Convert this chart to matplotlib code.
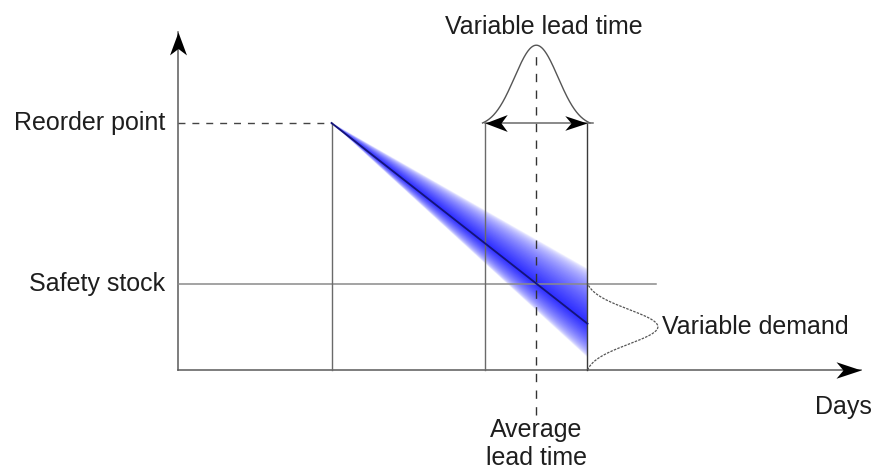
import numpy as np
from matplotlib import pyplot as plt

plt.rcParams['font.family'] = ['Liberation Sans', 'DejaVu Sans']

# stock levels (units) and days
reorder_point = 100
safety_stock = 35
reorder_day = 6
lead_min, lead_avg, lead_max = 12, 14, 16
demand_rate = 8.125          # units per day, mean
demand_rate_low = 5.9        # upper edge of the fan
demand_rate_high = 9.5       # lower edge of the fan
lead_sigma = 0.85            # days
demand_sigma = 7.0           # units
lead_bell_height = 31.5      # units
demand_bell_height = 2.75    # days

labels_y = ["Reorder point", "Safety stock"]
label_lead = "Variable lead time"
label_demand = "Variable demand"
label_avg = "Average\nlead time"
label_x = "Days"

fig = plt.figure(figsize=(8.76, 4.73), dpi=100)
ax = fig.add_axes([0, 0, 1, 1])
ax.set_xlim(-6.95, 27.27)
ax.set_ylim(-41.7, 149.8)
ax.axis('off')

txt = '#1e1e1e'
grey = '#6a6a6a'

def head(x, y, verts, size):
    ax.plot([x], [y], marker=verts, ms=size, color='black', mew=0, zorder=6)

up = [(0, 0), (-0.37, -1), (0, -0.72), (0.37, -1)]
right = [(0, 0), (-1, 0.33), (-0.72, 0), (-1, -0.33)]
left = [(0, 0), (1, 0.38), (0.72, 0), (1, -0.38)]

# axes with arrows
ax.plot([0, 0], [0, 137], color='#5a5a5a', lw=1.1, zorder=3)
ax.plot([0, 26.7], [0, 0], color='#5a5a5a', lw=1.1, zorder=3)
head(0, 137, up, 33)
head(26.7, 0, right, 36)

# fan of possible demand, faded towards the edges
gx = np.linspace(reorder_day, lead_max, 500)
gy = np.linspace(0, reorder_point, 500)
X, Y = np.meshgrid(gx, gy)
dt = X - reorder_day
c = reorder_point - demand_rate * dt
u = reorder_point - demand_rate_low * dt
l = reorder_point - demand_rate_high * dt
with np.errstate(divide='ignore', invalid='ignore'):
    t = np.where(Y >= c, (Y - c) / (u - c), (c - Y) / (c - l))
t = np.nan_to_num(t, nan=2.0)
alpha = np.clip(1 - t, 0, 1) ** 0.55
rgba = np.zeros(X.shape + (4,))
rgba[..., 0] = 0.1
rgba[..., 1] = 0.1
rgba[..., 2] = 1.0
rgba[..., 3] = alpha * 0.92
ax.imshow(rgba, extent=[reorder_day, lead_max, 0, reorder_point], origin='lower',
          aspect='auto', interpolation='bilinear', zorder=2)

# mean demand line
ax.plot([reorder_day, lead_max],
        [reorder_point, reorder_point - demand_rate * (lead_max - reorder_day)],
        color='#14147a', lw=1.3, zorder=4)

# reference lines
ax.plot([0, reorder_day], [reorder_point, reorder_point], color='#444444', lw=1,
        dashes=(5, 5), zorder=3)
ax.plot([0, 18.67], [safety_stock, safety_stock], color='#8a8a8a', lw=1.1, zorder=3)
ax.plot([reorder_day, reorder_day], [0, reorder_point], color=grey, lw=1, zorder=3)
ax.plot([lead_min, lead_min], [0, reorder_point], color=grey, lw=1, zorder=3)
ax.plot([lead_max, lead_max], [0, reorder_point], color='#3a3a3a', lw=1, zorder=3)
ax.plot([lead_avg, lead_avg], [-18.2, 128], color='#333333', lw=1,
        dashes=(6, 6), zorder=5)

# lead time distribution with double arrow
lx = np.linspace(lead_min - 0.1, lead_max + 0.1, 300)
g = np.exp(-(lx - lead_avg) ** 2 / (2 * lead_sigma ** 2))
g0 = np.exp(-(lead_max + 0.1 - lead_avg) ** 2 / (2 * lead_sigma ** 2))
ax.plot(lx, reorder_point + lead_bell_height * (g - g0) / (1 - g0), color='#555555',
        lw=1, zorder=4)
ax.plot([lead_min, lead_max + 0.2], [reorder_point, reorder_point], color=grey,
        lw=1.1, zorder=4)
head(lead_min, reorder_point, left, 32)
head(lead_max, reorder_point, right, 32)

# demand distribution at the end of lead time
dy = np.linspace(0, safety_stock, 300)
mid = safety_stock / 2
h = np.exp(-(dy - mid) ** 2 / (2 * demand_sigma ** 2))
h0 = np.exp(-mid ** 2 / (2 * demand_sigma ** 2))
ax.plot(lead_max + demand_bell_height * (h - h0) / (1 - h0), dy, color='#555555',
        lw=0.9, dashes=(2, 1), zorder=4)

# labels
fs = 18
ax.text(-0.5, reorder_point, labels_y[0], ha='right', va='center', fontsize=fs, color=txt)
ax.text(-0.5, safety_stock, labels_y[1], ha='right', va='center', fontsize=fs, color=txt)
ax.text(14.3, 139, label_lead, ha='center', va='center', fontsize=fs, color=txt)
ax.text(18.9, 17.6, label_demand, ha='left', va='center', fontsize=fs, color=txt)
ax.text(lead_avg, -29.8, label_avg, ha='center', va='center', fontsize=fs, color=txt,
        linespacing=1.2)
ax.text(24.9, -15, label_x, ha='left', va='center', fontsize=fs, color=txt)

fig.savefig('out.png', dpi=100)
